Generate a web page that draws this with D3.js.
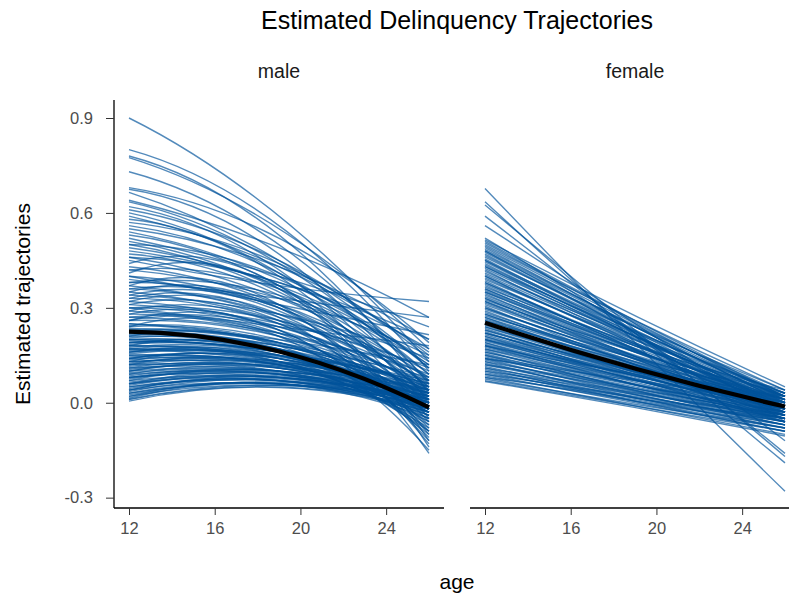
<!DOCTYPE html>
<html>
<head>
<meta charset="utf-8">
<script src="https://cdn.jsdelivr.net/npm/d3@7"></script>
<style>
  body { margin: 0; background: #fff; }
  text { font-family: "Liberation Sans", Arial, sans-serif; }
</style>
</head>
<body>
<svg id="chart" width="789" height="596"></svg>
<script>
var ages = [12, 19, 26];

// male trajectories: estimated value at age 12, 19, 26
var maleCurves = [
  [0.90, 0.59, 0.13], [0.80, 0.56, 0.10], [0.78, 0.53, 0.03], [0.775, 0.55, 0.17],
  [0.73, 0.50, 0.06], [0.68, 0.52, 0.19], [0.675, 0.47, 0.00], [0.665, 0.45, 0.11],
  [0.64, 0.49, 0.27], [0.635, 0.44, 0.07], [0.62, 0.42, -0.02], [0.61, 0.45, 0.14],
  [0.60, 0.41, 0.04], [0.59, 0.43, 0.16], [0.58, 0.40, -0.05], [0.56, 0.41, 0.09],
  [0.54, 0.39, 0.12], [0.53, 0.37, 0.01], [0.52, 0.40, 0.24], [0.51, 0.36, 0.07],
  [0.50, 0.35, 0.05], [0.49, 0.37, 0.13], [0.48, 0.38, 0.20], [0.47, 0.34, 0.02],
  [0.46, 0.33, 0.08], [0.45, 0.37, 0.32], [0.44, 0.37, -0.12], [0.43, 0.31, 0.04],
  [0.42, 0.33, 0.15], [0.41, 0.36, -0.14], [0.40, 0.31, 0.215], [0.40, 0.30, 0.06],
  [0.39, 0.33, 0.27], [0.38, 0.29, 0.00],
  [0.57, 0.44, 0.15], [0.55, 0.43, 0.20], [0.50, 0.40, 0.11], [0.46, 0.38, 0.17],
  [0.42, 0.36, 0.09], [0.38, 0.34, 0.12],
  [0.37, 0.31, -0.16], [0.37, 0.28, 0.10], [0.36, 0.27, 0.03], [0.35, 0.30, -0.10],
  [0.35, 0.26, 0.07], [0.34, 0.28, 0.14], [0.33, 0.25, 0.01], [0.33, 0.27, -0.13],
  [0.32, 0.24, 0.05], [0.31, 0.25, 0.11], [0.31, 0.26, -0.08], [0.30, 0.23, 0.02],
  [0.30, 0.24, 0.18], [0.29, 0.22, 0.06], [0.28, 0.23, -0.11], [0.28, 0.21, 0.00],
  [0.27, 0.22, 0.09], [0.26, 0.21, 0.03], [0.26, 0.22, -0.07], [0.25, 0.19, 0.04],
  [0.25, 0.20, 0.12], [0.24, 0.19, -0.02], [0.24, 0.21, -0.15], [0.23, 0.18, 0.05],
  [0.23, 0.19, 0.01], [0.22, 0.18, 0.08], [0.22, 0.17, -0.03], [0.21, 0.17, 0.02],
  [0.21, 0.18, -0.09], [0.20, 0.16, 0.06], [0.20, 0.16, 0.00],
  [0.36, 0.31, 0.05], [0.34, 0.30, -0.02], [0.32, 0.28, -0.06], [0.30, 0.26, 0.08],
  [0.29, 0.25, -0.09], [0.27, 0.24, 0.04], [0.26, 0.23, -0.12],
  [0.19, 0.16, 0.03], [0.19, 0.15, -0.04], [0.18, 0.15, 0.07], [0.18, 0.14, 0.00],
  [0.17, 0.14, -0.06], [0.17, 0.13, 0.04], [0.16, 0.14, 0.01], [0.16, 0.13, -0.08],
  [0.15, 0.13, 0.05], [0.15, 0.12, -0.02], [0.14, 0.12, 0.02], [0.14, 0.13, -0.05],
  [0.13, 0.12, 0.03], [0.13, 0.11, -0.01], [0.12, 0.11, 0.04], [0.12, 0.12, -0.07],
  [0.11, 0.10, 0.01], [0.11, 0.11, -0.03], [0.10, 0.10, 0.02], [0.10, 0.10, -0.06],
  [0.09, 0.09, 0.00], [0.09, 0.10, -0.04], [0.08, 0.09, 0.02], [0.08, 0.08, -0.02],
  [0.07, 0.08, 0.01], [0.07, 0.09, -0.05], [0.06, 0.08, 0.00], [0.06, 0.07, -0.03],
  [0.05, 0.07, 0.01], [0.05, 0.07, -0.02], [0.04, 0.06, -0.01], [0.04, 0.07, -0.04],
  [0.03, 0.06, 0.00], [0.03, 0.06, -0.03], [0.02, 0.055, -0.01], [0.02, 0.06, -0.05],
  [0.01, 0.05, -0.02], [0.005, 0.048, -0.03],
  [0.245, 0.20, 0.02], [0.235, 0.19, 0.07], [0.225, 0.185, -0.01], [0.215, 0.18, 0.04],
  [0.205, 0.17, -0.02], [0.195, 0.16, 0.05], [0.185, 0.16, 0.01], [0.175, 0.15, -0.03],
  [0.165, 0.145, 0.03], [0.155, 0.14, -0.01], [0.145, 0.13, 0.04], [0.135, 0.125, 0.00],
  [0.125, 0.12, -0.03], [0.115, 0.115, 0.02], [0.105, 0.11, -0.01], [0.095, 0.10, 0.03],
  [0.085, 0.095, -0.01], [0.075, 0.09, -0.03], [0.065, 0.085, 0.02], [0.055, 0.08, -0.01],
  [0.045, 0.075, 0.00], [0.035, 0.07, -0.02], [0.025, 0.065, 0.00], [0.015, 0.06, -0.04],
  [0.012, 0.055, 0.00], [0.20, 0.17, 0.04], [0.19, 0.165, -0.01], [0.17, 0.15, 0.06],
  [0.16, 0.15, -0.02], [0.14, 0.14, 0.01], [0.12, 0.125, 0.03], [0.10, 0.115, 0.00],
  [0.08, 0.10, 0.01], [0.06, 0.09, -0.02], [0.04, 0.08, -0.01], [0.13, 0.13, -0.09],
  [0.18, 0.16, -0.10]
];

// female trajectories: estimated value at age 12, 19, 26
var femaleCurves = [
  [0.677, 0.19, -0.28], [0.635, 0.21, -0.19], [0.625, 0.23, -0.17], [0.59, 0.22, -0.16],
  [0.56, 0.25, -0.06], [0.52, 0.22, -0.12],
  [0.515, 0.275, 0.05], [0.51, 0.26, 0.02], [0.50, 0.26, 0.04], [0.49, 0.24, 0.00],
  [0.48, 0.245, 0.03], [0.47, 0.23, 0.01], [0.46, 0.24, 0.04], [0.455, 0.215, -0.01],
  [0.45, 0.227, 0.02], [0.44, 0.21, 0.00], [0.43, 0.22, 0.03], [0.42, 0.19, -0.02],
  [0.415, 0.205, 0.01], [0.41, 0.21, 0.03], [0.40, 0.186, -0.01], [0.39, 0.197, 0.02],
  [0.385, 0.17, -0.03], [0.38, 0.18, 0.00], [0.37, 0.167, -0.02], [0.365, 0.185, 0.02],
  [0.36, 0.167, -0.01], [0.35, 0.172, 0.01], [0.345, 0.145, -0.04], [0.34, 0.162, 0.00],
  [0.33, 0.147, -0.02], [0.325, 0.164, 0.02], [0.32, 0.137, -0.03], [0.31, 0.147, 0.00],
  [0.305, 0.12, -0.05], [0.30, 0.137, -0.01], [0.295, 0.145, 0.01], [0.29, 0.122, -0.03],
  [0.28, 0.127, -0.01], [0.275, 0.14, 0.02], [0.27, 0.107, -0.04], [0.265, 0.12, -0.01],
  [0.26, 0.122, 0.00], [0.255, 0.095, -0.05], [0.25, 0.107, -0.02], [0.245, 0.10, -0.03],
  [0.24, 0.112, 0.00], [0.235, 0.09, -0.04], [0.23, 0.097, -0.02], [0.225, 0.075, -0.06],
  [0.22, 0.097, -0.01], [0.215, 0.085, -0.03], [0.21, 0.072, -0.05], [0.205, 0.085, -0.02],
  [0.20, 0.072, -0.04], [0.195, 0.085, -0.01], [0.19, 0.057, -0.06], [0.185, 0.07, -0.03],
  [0.18, 0.057, -0.05], [0.175, 0.07, -0.02], [0.17, 0.057, -0.04], [0.165, 0.04, -0.07],
  [0.16, 0.057, -0.03], [0.155, 0.045, -0.05], [0.15, 0.037, -0.06], [0.145, 0.045, -0.04],
  [0.14, 0.027, -0.07], [0.135, 0.035, -0.05], [0.13, 0.017, -0.08], [0.125, 0.025, -0.06],
  [0.12, 0.032, -0.04], [0.115, 0.015, -0.07], [0.11, 0.005, -0.09], [0.105, 0.015, -0.06],
  [0.10, 0.005, -0.08], [0.095, 0.015, -0.05], [0.09, 0.0, -0.09], [0.085, 0.005, -0.07],
  [0.08, -0.01, -0.10], [0.075, -0.005, -0.08], [0.07, -0.01, -0.09], [0.067, -0.015, -0.105],
  [0.505, 0.255, 0.01], [0.495, 0.25, 0.02], [0.485, 0.24, 0.00], [0.475, 0.24, 0.02],
  [0.465, 0.225, -0.02], [0.445, 0.225, 0.03], [0.435, 0.21, -0.01], [0.425, 0.21, 0.02],
  [0.405, 0.20, 0.02], [0.395, 0.185, -0.02], [0.375, 0.18, 0.01], [0.355, 0.165, -0.01],
  [0.335, 0.16, 0.01], [0.315, 0.15, 0.01], [0.285, 0.13, -0.02], [0.27, 0.13, 0.01],
  [0.26, 0.115, -0.03], [0.25, 0.115, 0.01], [0.24, 0.10, -0.02], [0.23, 0.10, -0.01],
  [0.22, 0.09, -0.04], [0.21, 0.09, -0.01], [0.20, 0.085, -0.02], [0.19, 0.075, -0.03],
  [0.18, 0.075, -0.01], [0.17, 0.065, -0.05], [0.16, 0.06, -0.04], [0.15, 0.055, -0.03],
  [0.14, 0.05, -0.05], [0.13, 0.045, -0.04], [0.12, 0.04, -0.06], [0.11, 0.03, -0.05],
  [0.10, 0.025, -0.07], [0.09, 0.02, -0.06], [0.08, 0.01, -0.08], [0.30, 0.14, 0.00],
  [0.35, 0.16, -0.02], [0.40, 0.19, 0.00], [0.45, 0.21, -0.02], [0.28, 0.12, -0.04],
  [0.33, 0.14, -0.05], [0.38, 0.17, -0.04], [0.43, 0.20, -0.03], [0.48, 0.22, -0.04],
  [0.22, 0.11, 0.02], [0.18, 0.09, 0.02], [0.14, 0.07, 0.00], [0.20, 0.08, -0.06],
  [0.36, 0.18, 0.04], [0.32, 0.16, 0.03]
];

// mean trajectories (thick black)
var maleMean = [0.225, 0.162, -0.015];
var femaleMean = [0.253, 0.108, -0.012];

var panelNames = ['male', 'female'];
var xTicks = [12, 16, 20, 24];
var yTicks = [-0.3, 0.0, 0.3, 0.6, 0.9];

var svg = d3.select('#chart');
svg.append('rect').attr('width', 789).attr('height', 596).attr('fill', '#fff');

var yTop = 100, yBottom = 508;
var panels = [
  { name: panelNames[0], curves: maleCurves, mean: maleMean, left: 114, right: 444 },
  { name: panelNames[1], curves: femaleCurves, mean: femaleMean, left: 470, right: 800 }
];

var y = d3.scaleLinear().domain([-0.3327, 0.9569]).range([yBottom, yTop]);

panels.forEach(function(p) {
  var x = d3.scaleLinear().domain([11.3, 26.7]).range([p.left, p.right]);

  // each trajectory is a quadratic in age: draw the parabola through the 3 read values
  var curvePath = function(v) {
    var y0 = y(v[0]), y1 = y(v[1]), y2 = y(v[2]);
    var path = d3.path();
    path.moveTo(x(ages[0]), y0);
    path.quadraticCurveTo(x(ages[1]), 2 * y1 - (y0 + y2) / 2, x(ages[2]), y2);
    return path.toString();
  };

  var g = svg.append('g');
  g.selectAll('path.traj')
    .data(p.curves)
    .enter()
    .append('path')
    .attr('class', 'traj')
    .attr('d', curvePath)
    .attr('fill', 'none')
    .attr('stroke', '#00529b')
    .attr('stroke-opacity', 0.68)
    .attr('stroke-width', 1.4);

  g.append('path')
    .attr('d', curvePath(p.mean))
    .attr('fill', 'none')
    .attr('stroke', '#000')
    .attr('stroke-width', 4.2);

  var xAxis = svg.append('g')
    .attr('transform', 'translate(0,' + yBottom + ')')
    .call(d3.axisBottom(x).tickValues(xTicks).tickSize(7).tickSizeOuter(0).tickPadding(7));
  xAxis.select('.domain').attr('stroke', '#000').attr('stroke-width', 1.3)
    .attr('d', 'M' + p.left + ',0H' + p.right);
  xAxis.selectAll('.tick line').attr('stroke', '#333');
  xAxis.selectAll('.tick text')
    .attr('fill', '#4d4d4d')
    .style('font-size', '16.5px');

  svg.append('text')
    .attr('x', (p.left + p.right) / 2)
    .attr('y', 78)
    .attr('text-anchor', 'middle')
    .style('font-size', '19.5px')
    .attr('fill', '#1a1a1a')
    .text(p.name);
});

var yAxis = svg.append('g')
  .attr('transform', 'translate(' + panels[0].left + ',0)')
  .call(d3.axisLeft(y).tickValues(yTicks).tickSize(8).tickSizeOuter(0).tickPadding(13));
yAxis.select('.domain').attr('stroke', '#000').attr('stroke-width', 1.3)
  .attr('d', 'M0,' + yTop + 'V' + yBottom);
yAxis.selectAll('.tick line').attr('stroke', '#333');
yAxis.selectAll('.tick text')
  .attr('fill', '#4d4d4d')
  .style('font-size', '16.5px')
  .text(function(d) { return d3.format('.1f')(d).replace('−', '-'); });

svg.append('text')
  .attr('x', 457)
  .attr('y', 29)
  .attr('text-anchor', 'middle')
  .style('font-size', '25px')
  .attr('fill', '#000')
  .text('Estimated Delinquency Trajectories');

svg.append('text')
  .attr('x', 457)
  .attr('y', 589)
  .attr('text-anchor', 'middle')
  .style('font-size', '21px')
  .attr('fill', '#000')
  .text('age');

svg.append('text')
  .attr('transform', 'translate(30,' + (yTop + yBottom) / 2 + ') rotate(-90)')
  .attr('text-anchor', 'middle')
  .style('font-size', '21px')
  .attr('fill', '#000')
  .text('Estimated trajectories');
</script>
</body>
</html>
